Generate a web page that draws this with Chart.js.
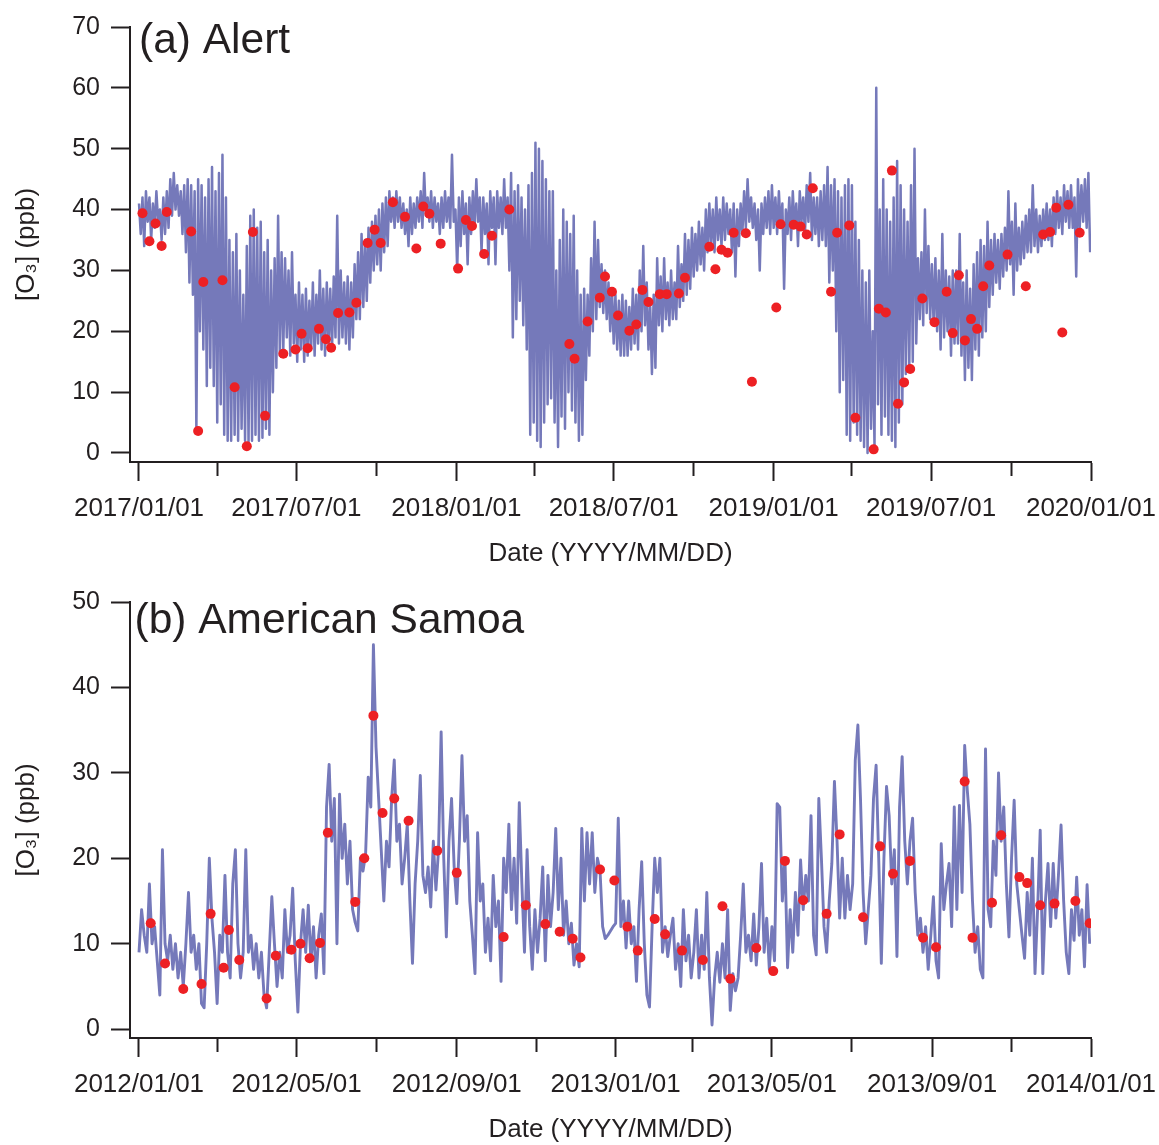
<!DOCTYPE html>
<html>
<head>
<meta charset="utf-8">
<title>O3 Alert / American Samoa</title>
<script src="https://cdn.jsdelivr.net/npm/chart.js@4.4.1/dist/chart.umd.min.js"></script>
<style>
  body { margin: 0; background: #fff; overflow: hidden; }
  canvas { position: absolute; left: 0; }
  #chartA { top: 0; }
  #chartB { top: 575px; }
</style>
</head>
<body>
<canvas id="chartA" width="1159" height="575"></canvas>
<canvas id="chartB" width="1159" height="570"></canvas>
<script>
// (a) Alert: ozone every 2 days from 2017/01/01
const startA = '2017/01/01';
const stepA = 2;
const o3A = [
  // 2017
  41, 36, 42, 34, 43, 38, 42, 35, 41, 37, 43, 38, 40, 35, 42, 36, 43, 37, 45, 39, 46, 40, 44, 39, 43, 36,
  44, 33, 45, 28, 44, 26, 43, 3.5, 45, 20, 44, 17, 42, 11, 45, 14, 47, 11, 43, 5, 46, 8, 49, 3, 42, 2,
  35, 2, 33, 3, 36, 2, 30, 4, 26, 2, 34, 1.5, 39, 2, 40, 3, 37, 2, 38, 2.5, 33, 4, 35, 3, 30, 10, 32, 14, 39, 16, 33, 17,
  32, 19, 30, 16, 33, 18, 26, 15, 28, 17, 26, 15, 27, 16, 25, 17, 28, 16, 26, 18, 30, 17, 27, 16,
  28, 18, 27, 17, 29, 19, 39, 18, 30, 19, 28, 18, 29, 17, 28, 19, 31, 22, 33, 22, 36, 24, 35, 25,
  37, 28, 38, 30, 39, 31, 40, 30, 41, 33, 42, 34,
  43, 38, 42, 37, 43, 38, 42, 37, 41, 36, 40, 34, 42, 36, 41, 37, 42, 38, 43, 37,
  46, 39, 42, 38, 43, 37, 42, 38, 41, 36, 42, 37, 43, 38, 42, 37, 49, 38, 40, 30,
  // 2018
  42, 34, 43, 36, 41, 31, 42, 36, 43, 37, 45, 38, 42, 33, 42, 36, 41, 31, 43, 37, 42, 31, 43, 37, 42, 36, 45, 37, 42, 30,
  46, 19, 43, 22, 44, 25,
  42, 21, 40, 17, 44, 3, 46, 5, 51, 2, 50, 1, 48, 5, 45, 8, 43, 9, 43, 5, 30, 1,
  35, 6, 40, 4, 38, 10, 36, 7, 39, 5, 30, 2, 26, 3, 27, 12, 26, 16, 32, 20, 38, 22,
  35, 24, 31, 23, 30, 22, 28, 20, 27, 18, 26, 17, 25, 16, 26, 16, 25, 16, 24, 17, 27, 18,
  26, 17, 30, 20, 34, 21, 28, 17, 24, 13, 26, 14,
  32, 21, 29, 20, 32, 22, 28, 21, 30, 22, 28, 22, 34, 24, 31, 25,
  36, 26, 35, 27, 37, 29, 36, 30, 38, 31, 37, 30, 40, 33, 41, 34, 40, 33, 42, 35, 40, 34, 42, 35, 41, 36, 40, 33,
  41, 29, 40, 34, 41, 36, 43, 37, 45, 38, 42, 37, 41, 35, 40, 30, 41, 36, 42, 37, 43, 36, 44, 37, 42, 36,
  // 2019
  43, 37, 41, 27, 40, 36, 42, 35, 43, 37, 41, 34, 43, 38, 42, 36, 44, 38, 46, 35, 42, 36, 42, 34, 43, 35,
  44, 34, 47, 28, 44, 30, 45, 20, 43, 10, 42, 12, 44, 3, 45, 2, 44, 5, 38, 3, 35, 2, 30, 1, 28, 0, 30, 4,
  20, 1, 60, 8, 40, 3, 45, 6, 40, 3, 38, 2, 42, 1, 48, 5, 44, 8, 40, 13, 38, 14, 44, 15, 50, 18,
  32, 22, 33, 21, 40, 23, 34, 22, 31, 21, 32, 20, 30, 17, 36, 19, 30, 20, 29, 16, 30, 18,
  30, 18, 36, 16, 28, 12, 30, 14, 27, 12, 31, 17, 33, 16, 35, 19, 34, 20,
  38, 24, 35, 26, 36, 28, 35, 27, 36, 29, 37, 30, 43, 31, 38, 26, 41, 30, 37, 31,
  38, 32, 39, 33, 40, 33, 44, 34, 40, 33, 39, 34, 40, 35, 41, 35, 40, 34, 42, 36,
  43, 37, 42, 36, 44, 38, 43, 37, 44, 37, 42, 29, 45, 37, 44, 38, 45, 37, 46, 33
];
// red dots: day since startA and value
const dotDayA = [4, 12, 19, 26, 32, 60, 68, 74, 96, 110, 124, 131, 145, 166, 180, 187, 194, 207, 215, 221,
  229, 242, 250, 263, 271, 278, 292, 306, 319, 327, 334, 347, 367, 376, 383, 397, 406, 426, 495, 501,
  516, 530, 536, 544, 551, 564, 572, 579, 586, 599, 607, 621, 628, 656, 663, 670, 677, 684, 698, 705,
  733, 738, 753, 761, 768, 775, 796, 803, 817, 824, 845, 851, 859, 866, 873, 880, 887, 901, 915, 929,
  936, 943, 950, 957, 964, 971, 978, 999, 1020, 1040, 1048, 1055, 1062, 1069, 1082];
const dotO3A = [39.4, 34.8, 37.7, 34.0, 39.6, 36.4, 3.6, 28.1, 28.4, 10.8, 1.1, 36.3, 6.1, 16.3, 17.0, 19.6, 17.2, 20.4, 18.7, 17.3,
  23.0, 23.1, 24.7, 34.5, 36.7, 34.5, 41.2, 38.8, 33.6, 40.5, 39.3, 34.4, 30.3, 38.3, 37.3, 32.7, 35.7, 40.0, 17.9, 15.5,
  21.6, 25.5, 29.0, 26.5, 22.6, 20.1, 21.1, 26.8, 24.8, 26.1, 26.1, 26.2, 28.8, 33.9, 30.2, 33.4, 32.9, 36.2, 36.1, 11.7,
  23.9, 37.6, 37.5, 37.2, 35.9, 43.5, 26.5, 36.2, 37.4, 5.8, 0.6, 23.7, 23.1, 46.4, 8.1, 11.6, 13.8, 25.4, 21.5, 26.5,
  19.7, 29.2, 18.5, 22.0, 20.4, 27.4, 30.8, 32.6, 27.4, 35.9, 36.3, 40.3, 19.8, 40.8, 36.2];
const tickDatesA = ['2017/01/01', '2017/04/01', '2017/07/01', '2017/10/01', '2018/01/01', '2018/04/01',
  '2018/07/01', '2018/10/01', '2019/01/01', '2019/04/01', '2019/07/01', '2019/10/01', '2020/01/01'];
const yTicksA = [0, 10, 20, 30, 40, 50, 60, 70];

// (b) American Samoa: ozone every 2 days from 2012/01/01
const startB = '2012/01/01';
const stepB = 2;
const o3B = [
  9, 14, 11, 9, 17, 10, 12, 8, 4, 21,
  10, 8, 11, 7, 10, 6, 9, 5, 10, 16,
  9, 11, 7, 10, 3, 2.5, 10, 20, 13, 9,
  3, 11, 9, 18, 9, 6, 17, 21, 10, 6,
  9, 21, 9, 11, 7, 10, 6, 9, 4, 2.5,
  9, 15.5, 10, 5, 9, 6, 14, 9, 11, 16.5,
  8, 2, 10, 14, 9, 14.5, 8, 12, 6, 11,
  13.5, 6.5, 26, 31, 22, 27, 10, 27.5, 20, 24,
  17, 22, 14, 12.5, 11.5, 20, 18.5, 20.5, 29.5, 26,
  45, 33, 27, 21, 15, 22, 19, 27, 31.5, 22,
  24, 17, 20, 24, 15, 7.7, 17, 22, 29.7, 18,
  16, 19, 14.3, 22, 16.3, 21, 34.8, 20, 10.8, 22,
  27, 19, 14.7, 22, 32, 22, 25, 15, 11, 6.5,
  23, 15, 17, 9, 13, 8, 18, 12, 15, 5.6,
  20, 16, 24, 14, 20, 12.4, 26.5, 17, 9, 21,
  12, 7, 14, 9, 13, 19, 8, 18, 12, 16,
  23.5, 14, 20, 11, 15, 10, 12.4, 7.5, 10, 7.3,
  23.5, 15, 23, 17, 23, 16, 20, 18.6, 12, 10.6,
  11, 11.5, 12, 12.4, 24.7, 12, 15, 9.5, 15, 10,
  12, 5.6, 14, 19.6, 10, 4, 2.6, 12, 20, 16,
  20, 9, 12, 8.5, 11, 13, 7, 10, 5, 14,
  8, 11, 6, 9, 14, 6, 11, 7, 16, 6,
  0.5, 6, 9, 5.5, 10, 6, 14, 2.2, 6.5, 4.5,
  6, 11, 17, 9, 11, 8, 13.5, 7.5, 12, 19.4,
  9, 13, 7, 12, 8, 26.4, 26, 15, 20, 7.2,
  14, 9, 16, 11, 19.8, 14, 18, 15, 25, 11,
  8.7, 27, 20, 12, 9, 15, 19.4, 29, 22, 13,
  20, 13, 18, 14, 17, 31.5, 35.6, 27, 16, 10,
  14, 18, 27, 30.9, 20, 7.7, 20, 28.4, 25, 17,
  21, 8.5, 26, 31.9, 22, 17, 22, 24.7, 16, 11,
  13, 9, 12, 7, 11, 15.5, 8, 6, 21.7, 14,
  17, 19.4, 12, 26, 14, 26.2, 16, 33.2, 28, 24,
  15, 9, 12, 7, 6, 32.8, 14, 12, 22, 18,
  30, 22, 26, 17, 10.8, 20, 26.8, 17, 14, 11,
  8.3, 16, 11, 20, 6.5, 14, 23.3, 6.5, 15, 19.4,
  12, 19.4, 13, 18, 23.9, 15, 9, 6.5, 14, 10.4,
  17.8, 11, 14, 7.3, 16.9, 10
];
const dotDayB = [9, 20, 34, 48, 55, 65, 69, 77, 98, 105, 117, 124, 131, 139, 145, 166, 173, 180, 187, 196,
  207, 229, 244, 280, 297, 312, 323, 333, 339, 354, 365, 375, 383, 396, 404, 417, 433, 448, 454, 474,
  487, 496, 510, 528, 538, 556, 569, 579, 592, 602, 612, 634, 640, 655, 662, 676, 682, 692, 703, 719, 730];
const dotO3B = [12.4, 7.7, 4.7, 5.3, 13.5, 7.2, 11.6, 8.1, 3.6, 8.6, 9.3, 10.0, 8.3, 10.1, 23.0, 14.9, 20.0, 36.7, 25.3, 27.0,
  24.4, 20.9, 18.3, 10.8, 14.5, 12.3, 11.4, 10.6, 8.4, 18.7, 17.4, 12.0, 9.2, 12.9, 11.1, 9.2, 8.1, 14.4, 5.9, 9.5,
  6.8, 19.7, 15.1, 13.5, 22.8, 13.1, 21.4, 18.2, 19.7, 10.7, 9.6, 29.0, 10.7, 14.8, 22.7, 17.8, 17.1, 14.5, 14.7, 15.0, 12.4];
const tickDatesB = ['2012/01/01', '2012/03/01', '2012/05/01', '2012/07/01', '2012/09/01', '2012/11/01', '2013/01/01',
  '2013/03/01', '2013/05/01', '2013/07/01', '2013/09/01', '2013/11/01', '2014/01/01'];
const yTicksB = [0, 10, 20, 30, 40, 50];

const ink = '#231f20';
const lineColor = '#7579ba';
const dotColor = '#ed2024';

Chart.defaults.font.family = '"Liberation Sans", Arial, sans-serif';
Chart.defaults.color = ink;

function dayOf(s, start) {
  const p = s.split('/').map(Number);
  const q = start.split('/').map(Number);
  return (Date.UTC(p[0], p[1] - 1, p[2]) - Date.UTC(q[0], q[1] - 1, q[2])) / 86400000;
}

// big "(a) Alert" label in the upper left of each panel
const panelLabel = {
  id: 'panelLabel',
  afterDraw(chart, args, opts) {
    const c = chart.ctx;
    c.save();
    c.font = '42.5px "Liberation Sans", Arial, sans-serif';
    c.fillStyle = ink;
    c.textBaseline = 'alphabetic';
    c.fillText(opts.text, opts.x, opts.y);
    c.restore();
  }
};

function makePanel(id, p) {
  const tickDays = p.tickDates.map(s => dayOf(s, p.start));
  const lastDay = tickDays[tickDays.length - 1];
  const line = p.values.map((v, i) => ({ x: i * p.step, y: v }));
  const dots = p.dotDays.map((d, i) => ({ x: d, y: p.dotVals[i] }));

  return new Chart(document.getElementById(id), {
    type: 'scatter',
    data: {
      datasets: [
        { data: dots, order: 0, pointRadius: 5, pointBackgroundColor: dotColor,
          pointBorderColor: dotColor, pointBorderWidth: 0, showLine: false },
        { data: line, order: 1, showLine: true, pointRadius: 0, pointHitRadius: 0,
          borderColor: lineColor, borderWidth: p.lineW, borderJoinStyle: 'round' }
      ]
    },
    options: {
      responsive: false,
      animation: false,
      layout: { padding: { left: 0, right: 68, top: 27, bottom: 0 } },
      plugins: {
        legend: { display: false },
        tooltip: { enabled: false },
        panelLabel: { text: p.label, x: p.labelX, y: p.labelY }
      },
      scales: {
        x: {
          type: 'linear',
          min: -p.padDays,
          max: lastDay,
          afterBuildTicks: s => { s.ticks = tickDays.map(v => ({ value: v })); },
          afterFit: s => { s.height = p.xAxisH; s.paddingLeft = 0; s.paddingRight = 0; },
          ticks: {
            autoSkip: false, maxRotation: 0, padding: 12,
            font: { size: 26 }, color: ink,
            callback: (v, i) => (i % 2 === 0 ? p.tickDates[i] : '')
          },
          grid: {
            drawOnChartArea: false, tickLength: 19, tickWidth: 2, tickColor: ink,
            tickBorderDash: c => (c.index % 2 ? [13, 100] : [])
          },
          border: { display: true, color: ink, width: 2 },
          title: {
            display: true, text: 'Date (YYYY/MM/DD)', color: ink,
            font: { size: 26 }, padding: { top: 0, bottom: p.xTitlePad }
          }
        },
        y: {
          min: p.yMin,
          max: p.yTicks[p.yTicks.length - 1],
          afterBuildTicks: s => { s.ticks = p.yTicks.map(v => ({ value: v })); },
          afterFit: s => { s.width = 130; },
          ticks: { padding: 11, font: { size: 25 }, color: ink },
          grid: { drawOnChartArea: false, tickLength: 19, tickWidth: 2, tickColor: ink },
          border: { display: true, color: ink, width: 2 },
          title: {
            display: true, text: '[O₃] (ppb)', color: ink,
            font: { size: 26 }, padding: { top: 11, bottom: 0 }
          }
        }
      }
    },
    plugins: [panelLabel]
  });
}

makePanel('chartA', {
  start: startA, step: stepA, values: o3A, dotDays: dotDayA, dotVals: dotO3A,
  tickDates: tickDatesA, yTicks: yTicksA, yMin: -1.48, padDays: 10.35, lineW: 2.5,
  xAxisH: 113, xTitlePad: 6, label: '(a) Alert', labelX: 139, labelY: 53
});

makePanel('chartB', {
  start: startB, step: stepB, values: o3B, dotDays: dotDayB, dotVals: dotO3B,
  tickDates: tickDatesB, yTicks: yTicksB, yMin: -1.03, padDays: 6.91, lineW: 2.9,
  xAxisH: 107, xTitlePad: 0, label: '(b) American Samoa', labelX: 134.5, labelY: 58
});
</script>
</body>
</html>
